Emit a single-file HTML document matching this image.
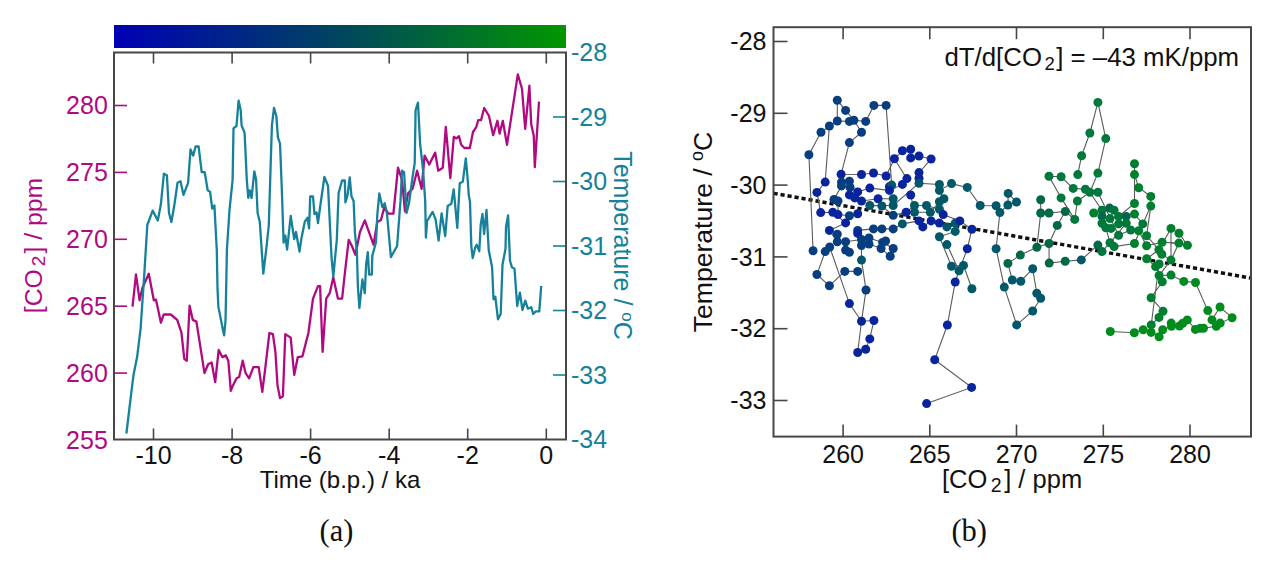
<!DOCTYPE html><html><head><meta charset="utf-8"><style>html,body{margin:0;padding:0;background:#fff;}svg{display:block;}</style></head><body>
<svg width="1277" height="563" viewBox="0 0 1277 563">
<g font-family='"Liberation Sans", sans-serif'>
<defs><linearGradient id="cb" x1="0" x2="1" y1="0" y2="0"><stop offset="0" stop-color="#0000B4"/><stop offset="0.5" stop-color="#00465F"/><stop offset="1" stop-color="#009600"/></linearGradient></defs>
<rect x="114" y="25" width="452" height="23" fill="url(#cb)"/>
<text x="107.8" y="448.5" font-size="25" fill="#B00A80" text-anchor="end">255</text>
<line x1="114" y1="373.1" x2="127" y2="373.1" stroke="#B00A80" stroke-width="1.6"/>
<text x="107.8" y="381.6" font-size="25" fill="#B00A80" text-anchor="end">260</text>
<line x1="114" y1="306.2" x2="127" y2="306.2" stroke="#B00A80" stroke-width="1.6"/>
<text x="107.8" y="314.7" font-size="25" fill="#B00A80" text-anchor="end">265</text>
<line x1="114" y1="239.3" x2="127" y2="239.3" stroke="#B00A80" stroke-width="1.6"/>
<text x="107.8" y="247.8" font-size="25" fill="#B00A80" text-anchor="end">270</text>
<line x1="114" y1="172.4" x2="127" y2="172.4" stroke="#B00A80" stroke-width="1.6"/>
<text x="107.8" y="180.9" font-size="25" fill="#B00A80" text-anchor="end">275</text>
<line x1="114" y1="105.5" x2="127" y2="105.5" stroke="#B00A80" stroke-width="1.6"/>
<text x="107.8" y="114.0" font-size="25" fill="#B00A80" text-anchor="end">280</text>
<text x="571" y="61.0" font-size="25" fill="#16819A">-28</text>
<line x1="553" y1="117.0" x2="566" y2="117.0" stroke="#16819A" stroke-width="1.6"/>
<text x="571" y="125.5" font-size="25" fill="#16819A">-29</text>
<line x1="553" y1="181.5" x2="566" y2="181.5" stroke="#16819A" stroke-width="1.6"/>
<text x="571" y="190.0" font-size="25" fill="#16819A">-30</text>
<line x1="553" y1="246.0" x2="566" y2="246.0" stroke="#16819A" stroke-width="1.6"/>
<text x="571" y="254.5" font-size="25" fill="#16819A">-31</text>
<line x1="553" y1="310.5" x2="566" y2="310.5" stroke="#16819A" stroke-width="1.6"/>
<text x="571" y="319.0" font-size="25" fill="#16819A">-32</text>
<line x1="553" y1="375.0" x2="566" y2="375.0" stroke="#16819A" stroke-width="1.6"/>
<text x="571" y="383.5" font-size="25" fill="#16819A">-33</text>
<text x="571" y="448.0" font-size="25" fill="#16819A">-34</text>
<line x1="153.5" y1="52.5" x2="153.5" y2="63.5" stroke="#474747" stroke-width="1.6"/>
<line x1="153.5" y1="439.5" x2="153.5" y2="428.5" stroke="#474747" stroke-width="1.6"/>
<text x="153.5" y="464" font-size="25" fill="#111" text-anchor="middle">-10</text>
<line x1="232.1" y1="52.5" x2="232.1" y2="63.5" stroke="#474747" stroke-width="1.6"/>
<line x1="232.1" y1="439.5" x2="232.1" y2="428.5" stroke="#474747" stroke-width="1.6"/>
<text x="232.1" y="464" font-size="25" fill="#111" text-anchor="middle">-8</text>
<line x1="310.6" y1="52.5" x2="310.6" y2="63.5" stroke="#474747" stroke-width="1.6"/>
<line x1="310.6" y1="439.5" x2="310.6" y2="428.5" stroke="#474747" stroke-width="1.6"/>
<text x="310.6" y="464" font-size="25" fill="#111" text-anchor="middle">-6</text>
<line x1="389.2" y1="52.5" x2="389.2" y2="63.5" stroke="#474747" stroke-width="1.6"/>
<line x1="389.2" y1="439.5" x2="389.2" y2="428.5" stroke="#474747" stroke-width="1.6"/>
<text x="389.2" y="464" font-size="25" fill="#111" text-anchor="middle">-4</text>
<line x1="467.7" y1="52.5" x2="467.7" y2="63.5" stroke="#474747" stroke-width="1.6"/>
<line x1="467.7" y1="439.5" x2="467.7" y2="428.5" stroke="#474747" stroke-width="1.6"/>
<text x="467.7" y="464" font-size="25" fill="#111" text-anchor="middle">-2</text>
<line x1="546.3" y1="52.5" x2="546.3" y2="63.5" stroke="#474747" stroke-width="1.6"/>
<line x1="546.3" y1="439.5" x2="546.3" y2="428.5" stroke="#474747" stroke-width="1.6"/>
<text x="546.3" y="464" font-size="25" fill="#111" text-anchor="middle">0</text>
<polyline points="132.5,306.7 136.0,274.4 139.6,300.3 142.4,287.9 148.8,273.7 153.8,300.3 155.9,299.6 157.3,305.7 160.9,322.7 163.7,314.5 170.8,314.5 177.2,319.9 181.4,332.3 184.3,358.9 186.8,360.7 189.6,305.7 192.8,319.9 196.4,321.6 204.5,373.1 208.1,364.2 211.6,362.5 215.2,382.0 218.7,350.0 222.3,357.1 225.8,355.4 228.3,360.7 230.8,390.9 232.1,387.3 236.4,378.4 239.2,376.7 242.7,360.7 245.6,373.1 249.1,378.4 253.4,367.1 258.7,367.1 262.3,391.9 265.1,369.6 269.4,333.0 272.9,334.1 275.4,351.8 277.5,385.5 280.0,398.0 282.9,396.2 285.3,334.1 290.7,337.6 294.2,374.9 297.8,357.1 302.4,356.4 308.4,333.0 313.0,298.6 318.0,286.1 320.1,286.1 322.6,351.8 326.2,298.6 329.7,293.2 333.3,277.3 337.9,298.6 342.1,298.6 345.0,272.0 348.7,239.8 351.9,246.0 355.4,254.7 359.9,232.3 364.8,220.4 373.5,244.7 377.3,221.9 381.0,219.9 384.2,207.5 388.4,213.7 393.4,213.7 398.0,167.7 402.0,179.8 405.0,211.5 408.0,193.4 412.6,188.8 417.1,170.7 421.6,188.8 424.6,155.6 429.2,164.6 435.2,152.6 438.2,170.7 442.8,167.7 445.8,126.9 450.3,178.2 453.8,136.8 456.4,138.4 459.0,136.2 461.2,144.8 464.4,148.0 469.8,148.0 473.0,132.0 476.2,127.2 478.2,120.2 481.0,120.2 484.2,108.0 489.0,116.0 493.2,135.2 497.4,120.8 499.6,133.6 502.8,120.8 507.0,144.8 512.4,109.6 517.8,74.4 522.0,88.8 525.2,128.8 529.4,85.6 531.2,124.0 533.8,136.0 534.8,167.2 539.0,101.6" fill="none" stroke="#B00A80" stroke-width="2.3" stroke-linejoin="round"/>
<polyline points="126.4,433.5 130.0,403.3 133.5,374.9 137.1,357.1 140.6,328.7 144.2,275.5 147.3,225.0 152.7,210.6 157.8,220.6 160.9,204.0 163.9,173.7 166.9,175.2 169.0,213.0 171.4,222.0 174.5,204.0 177.5,182.8 180.5,181.3 183.5,194.9 188.1,182.8 190.5,149.5 193.2,155.6 195.6,146.5 198.6,146.5 201.7,172.2 204.7,172.2 207.7,190.3 210.1,191.9 212.2,208.5 214.4,205.4 216.8,250.0 217.5,288.4 218.4,306.9 221.2,321.1 222.6,328.2 224.1,335.3 225.5,321.1 226.0,297.0 226.9,250.0 229.5,210.0 232.6,179.8 233.5,128.4 236.5,126.0 238.6,100.6 240.7,110.2 241.6,125.3 244.6,132.9 246.8,179.8 248.3,197.9 249.8,190.3 251.6,197.9 254.3,171.3 256.1,179.8 257.6,213.0 259.8,222.1 263.3,273.7 266.5,247.1 268.8,225.1 271.9,125.3 274.0,107.8 276.4,116.3 277.9,137.4 280.0,143.5 281.8,188.8 283.6,242.6 285.3,235.5 287.1,249.7 290.7,216.0 294.2,239.1 296.0,232.0 299.5,251.5 301.3,239.1 304.9,221.3 307.4,217.8 309.1,228.4 310.2,196.5 313.0,196.5 314.5,214.2 316.6,212.5 318.0,223.1 320.1,207.1 324.4,177.0 328.0,185.8 331.5,256.8 333.3,276.4 336.8,240.0 338.6,193.0 342.1,180.5 344.8,180.5 345.4,202.4 347.6,194.9 349.7,177.3 351.5,196.4 353.6,200.9 354.9,232.3 356.9,252.2 357.9,287.0 359.4,308.0 362.4,279.5 364.8,293.2 366.1,264.6 367.8,252.2 369.1,274.5 371.8,274.5 372.3,255.9 376.0,242.2 377.3,214.9 379.3,193.4 382.3,207.0 384.7,203.3 386.9,213.0 390.9,257.1 397.1,246.0 399.6,212.4 400.5,200.9 402.0,170.7 404.1,172.2 406.5,213.0 408.9,203.9 412.6,176.7 414.7,163.1 415.6,110.2 418.0,102.7 420.1,143.5 423.1,170.7 425.2,200.9 425.9,237.6 427.1,221.0 432.6,211.9 435.6,219.4 438.6,240.6 441.6,213.4 445.2,236.0 447.7,205.9 451.3,203.7 453.7,189.3 457.3,227.9 459.7,183.2 462.8,181.7 465.8,158.5 467.6,178.4 468.8,195.3 470.0,202.0 471.3,246.0 472.7,258.0 475.3,247.3 476.7,244.7 479.3,251.3 480.7,224.7 482.5,214.0 484.1,234.0 486.5,210.0 488.7,250.0 492.1,267.3 493.5,299.3 495.3,296.7 498.0,319.3 500.7,314.0 502.5,264.7 505.5,248.7 506.0,227.3 508.1,215.3 510.0,260.7 511.9,267.3 514.5,268.7 517.2,306.0 519.9,292.7 522.5,310.0 525.2,300.7 527.9,308.7 531.3,307.3 533.2,314.0 535.9,311.3 539.3,311.3 541.2,286.0" fill="none" stroke="#16819A" stroke-width="2.3" stroke-linejoin="round"/>
<rect x="114" y="52.5" width="452" height="387.0" fill="none" stroke="#474747" stroke-width="2"/>
<text x="340" y="488" font-size="24" fill="#111" text-anchor="middle">Time (b.p.) / ka</text>
<text transform="translate(42,245.5) rotate(-90)" font-size="24.8" fill="#B00A80" text-anchor="middle">[CO<tspan font-size="19" dx="3" dy="3">2</tspan><tspan dx="2" dy="-3">] / ppm</tspan></text>
<text transform="translate(614,245.5) rotate(90)" font-size="25" fill="#16819A" text-anchor="middle">Temperature / <tspan font-size="17" dy="-8">o</tspan><tspan dy="8">C</tspan></text>
<text x="336.5" y="541" font-size="30.5" font-family='"Liberation Serif", serif' fill="#111" text-anchor="middle">(a)</text>
<line x1="773.5" y1="41.5" x2="787.5" y2="41.5" stroke="#474747" stroke-width="1.6"/>
<text x="766.5" y="50.2" font-size="25" fill="#111" text-anchor="end">-28</text>
<line x1="773.5" y1="113.3" x2="787.5" y2="113.3" stroke="#474747" stroke-width="1.6"/>
<text x="766.5" y="122.0" font-size="25" fill="#111" text-anchor="end">-29</text>
<line x1="773.5" y1="185.1" x2="787.5" y2="185.1" stroke="#474747" stroke-width="1.6"/>
<text x="766.5" y="193.8" font-size="25" fill="#111" text-anchor="end">-30</text>
<line x1="773.5" y1="256.9" x2="787.5" y2="256.9" stroke="#474747" stroke-width="1.6"/>
<text x="766.5" y="265.6" font-size="25" fill="#111" text-anchor="end">-31</text>
<line x1="773.5" y1="328.7" x2="787.5" y2="328.7" stroke="#474747" stroke-width="1.6"/>
<text x="766.5" y="337.4" font-size="25" fill="#111" text-anchor="end">-32</text>
<line x1="773.5" y1="400.5" x2="787.5" y2="400.5" stroke="#474747" stroke-width="1.6"/>
<text x="766.5" y="409.2" font-size="25" fill="#111" text-anchor="end">-33</text>
<line x1="843.1" y1="27.2" x2="843.1" y2="39.2" stroke="#474747" stroke-width="1.6"/>
<line x1="843.1" y1="436.6" x2="843.1" y2="424.6" stroke="#474747" stroke-width="1.6"/>
<text x="843.1" y="462.5" font-size="25" fill="#111" text-anchor="middle">260</text>
<line x1="929.8" y1="27.2" x2="929.8" y2="39.2" stroke="#474747" stroke-width="1.6"/>
<line x1="929.8" y1="436.6" x2="929.8" y2="424.6" stroke="#474747" stroke-width="1.6"/>
<text x="929.8" y="462.5" font-size="25" fill="#111" text-anchor="middle">265</text>
<line x1="1016.5" y1="27.2" x2="1016.5" y2="39.2" stroke="#474747" stroke-width="1.6"/>
<line x1="1016.5" y1="436.6" x2="1016.5" y2="424.6" stroke="#474747" stroke-width="1.6"/>
<text x="1016.5" y="462.5" font-size="25" fill="#111" text-anchor="middle">270</text>
<line x1="1103.3" y1="27.2" x2="1103.3" y2="39.2" stroke="#474747" stroke-width="1.6"/>
<line x1="1103.3" y1="436.6" x2="1103.3" y2="424.6" stroke="#474747" stroke-width="1.6"/>
<text x="1103.3" y="462.5" font-size="25" fill="#111" text-anchor="middle">275</text>
<line x1="1190.0" y1="27.2" x2="1190.0" y2="39.2" stroke="#474747" stroke-width="1.6"/>
<line x1="1190.0" y1="436.6" x2="1190.0" y2="424.6" stroke="#474747" stroke-width="1.6"/>
<text x="1190.0" y="462.5" font-size="25" fill="#111" text-anchor="middle">280</text>
<line x1="773.5" y1="193.3" x2="1251" y2="278.1" stroke="#111" stroke-width="3.4" stroke-dasharray="4.2 2.9"/>
<polyline points="813.1,250.8 808.9,154.7 821.0,132.3 829.4,126.0 837.3,121.0 849.4,121.4 853.9,120.2 865.7,121.4 873.9,105.4 886.1,105.4 891.7,185.1" fill="none" stroke="#5a5a5a" stroke-width="1.1"/>
<polyline points="837.3,121.0 837.3,100.3 845.6,110.4 853.9,120.2 861.5,132.3 849.4,142.6 841.1,174.2 861.5,174.5 873.5,173.0 886.1,176.0 894.4,158.7 902.4,150.8 910.7,149.3 910.7,157.9 919.0,156.0 931.1,159.0 919.0,172.6 919.0,178.3 919.0,183.2 939.4,184.4 939.4,190.4 951.5,183.6 967.3,187.4 980.2,205.5 996.1,205.8 999.9,212.6 996.1,248.8 1004.3,287.1 1016.7,324.9 1032.7,311.0 1040.7,298.3 1036.8,293.3 1032.7,268.8 1020.8,281.2 1012.3,280.0 1007.9,263.4 1020.3,255.1 1036.9,247.3 1049.0,243.5 1049.2,263.1 1065.2,261.3 1081.3,259.9 1097.9,245.1" fill="none" stroke="#5a5a5a" stroke-width="1.1"/>
<polyline points="829.4,126.0 825.2,182.1 816.9,192.4 820.7,212.6 832.8,212.3 845.6,222.9 829.4,230.4 837.3,241.8 845.6,241.8 861.5,239.5" fill="none" stroke="#5a5a5a" stroke-width="1.1"/>
<polyline points="999.9,212.6 1007.9,205.0 1008.2,193.4 1016.5,202.0 1007.9,205.0" fill="none" stroke="#5a5a5a" stroke-width="1.1"/>
<polyline points="1040.7,199.7 1040.7,213.0 1036.9,247.3" fill="none" stroke="#5a5a5a" stroke-width="1.1"/>
<polyline points="1040.7,213.0 1049.0,213.0 1065.3,211.5 1057.3,225.4 1049.0,243.5" fill="none" stroke="#5a5a5a" stroke-width="1.1"/>
<polyline points="1073.2,188.4 1061.1,176.8 1049.0,176.3 1061.1,197.9 1074.7,219.4" fill="none" stroke="#5a5a5a" stroke-width="1.1"/>
<polyline points="1077.8,174.6 1081.6,155.7 1089.9,133.0 1097.9,102.4 1105.8,138.6 1097.9,173.1 1089.9,192.2 1102.0,210.3" fill="none" stroke="#5a5a5a" stroke-width="1.1"/>
<polyline points="1073.2,188.4 1085.4,189.2 1089.9,192.2 1077.4,201.0 1074.7,219.4 1065.3,211.5" fill="none" stroke="#5a5a5a" stroke-width="1.1"/>
<polyline points="1134.5,163.7 1134.5,174.6 1138.7,187.7 1150.8,196.4 1150.8,206.1 1146.6,235.7 1158.9,249.8 1171.0,228.4 1179.0,233.2 1187.4,245.2" fill="none" stroke="#5a5a5a" stroke-width="1.1"/>
<polyline points="1134.5,174.6 1134.5,203.5 1118.6,216.4 1110.0,218.6 1102.0,223.2 1105.8,227.7 1110.0,242.8 1114.1,246.6 1134.5,243.5 1142.8,223.9 1134.5,214.1" fill="none" stroke="#5a5a5a" stroke-width="1.1"/>
<polyline points="1097.9,245.1 1101.9,251.5 1110.0,242.8 1126.2,223.2 1130.7,230.0 1118.6,235.2 1097.9,192.2" fill="none" stroke="#5a5a5a" stroke-width="1.1"/>
<polyline points="1171.0,228.4 1171.0,260.1 1161.8,254.2 1158.9,249.8 1162.1,242.2 1178.9,243.1 1171.0,260.1 1159.1,275.5 1171.0,275.1 1183.8,281.4 1195.5,282.5 1207.8,310.6 1212.0,319.9 1220.0,307.0 1232.1,317.7 1220.2,323.1 1216.3,326.2 1203.5,328.2 1195.4,329.4 1187.3,319.9 1182.7,323.2 1171.5,326.3 1162.7,329.7 1159.1,336.8 1151.1,332.4 1143.2,329.7 1134.3,332.7 1110.3,331.5" fill="none" stroke="#5a5a5a" stroke-width="1.1"/>
<polyline points="1155.6,266.6 1162.3,281.7 1151.1,297.7 1163.0,311.2 1159.0,317.4 1151.2,324.9 1159.1,264.0" fill="none" stroke="#5a5a5a" stroke-width="1.1"/>
<polyline points="825.2,251.6 816.9,274.5 829.4,285.8 844.8,271.4 857.7,271.4" fill="none" stroke="#5a5a5a" stroke-width="1.1"/>
<polyline points="829.7,247.0 849.4,303.6 861.5,321.3 873.9,320.5 869.8,338.9 865.7,349.2 857.7,352.5 861.5,321.3" fill="none" stroke="#5a5a5a" stroke-width="1.1"/>
<polyline points="861.5,245.5 861.5,260.1 866.0,290.0 861.5,321.3" fill="none" stroke="#5a5a5a" stroke-width="1.1"/>
<polyline points="971.9,229.2 967.3,248.8 959.0,270.7 955.2,282.0 947.4,325.0 934.7,359.7 971.6,387.4 926.6,403.6" fill="none" stroke="#5a5a5a" stroke-width="1.1"/>
<polyline points="939.4,236.7 951.5,266.2 963.5,265.4 971.9,288.8" fill="none" stroke="#5a5a5a" stroke-width="1.1"/>
<polyline points="946.9,244.6 959.0,270.7" fill="none" stroke="#5a5a5a" stroke-width="1.1"/>
<polyline points="894.4,158.7 906.9,178.6 902.4,184.4 889.5,190.4 869.8,188.1 857.7,191.9 849.4,194.9 854.7,197.9 861.5,201.0 878.1,198.7 893.2,198.7" fill="none" stroke="#5a5a5a" stroke-width="1.1"/>
<polyline points="919.0,183.2 893.2,205.5 869.8,205.5 881.9,206.0 893.2,215.3 906.1,212.3 914.5,205.5 926.5,205.5 939.4,209.3 943.2,214.6 959.8,220.9 971.9,229.2" fill="none" stroke="#5a5a5a" stroke-width="1.1"/>
<polyline points="841.5,182.1 849.4,181.3 850.1,187.4 841.5,185.9 834.0,199.5 838.0,201.0 838.0,214.6 849.4,215.7 857.7,213.8 849.4,215.7" fill="none" stroke="#5a5a5a" stroke-width="1.1"/>
<polyline points="857.7,230.4 873.5,228.9 881.9,228.9 893.2,228.9 902.4,223.9 919.0,220.9 922.8,226.9 931.1,220.9 939.4,223.1 946.9,226.9 955.2,223.1 955.2,231.4 939.4,236.7" fill="none" stroke="#5a5a5a" stroke-width="1.1"/>
<polyline points="869.0,238.0 882.6,242.5 893.2,248.5 890.2,256.3 881.1,248.5 869.0,244.0" fill="none" stroke="#5a5a5a" stroke-width="1.1"/>
<polyline points="910.7,195.0 914.5,212.3 930.3,212.3 939.4,201.8 943.9,198.7 939.4,190.4" fill="none" stroke="#5a5a5a" stroke-width="1.1"/>
<polyline points="1150.8,206.1 1142.8,223.9 1138.7,230.7 1146.6,245.8 1162.1,242.2 1158.9,249.8 1146.7,258.7 1155.6,266.6" fill="none" stroke="#5a5a5a" stroke-width="1.1"/>
<circle cx="837.3" cy="100.3" r="4.5" fill="#063E80"/>
<circle cx="845.6" cy="110.4" r="4.5" fill="#063E80"/>
<circle cx="837.3" cy="121.0" r="4.5" fill="#063E80"/>
<circle cx="849.4" cy="121.4" r="4.5" fill="#063E80"/>
<circle cx="853.9" cy="120.2" r="4.5" fill="#063E80"/>
<circle cx="865.7" cy="121.4" r="4.5" fill="#063E80"/>
<circle cx="873.9" cy="105.4" r="4.5" fill="#063E80"/>
<circle cx="886.1" cy="105.4" r="4.5" fill="#063E80"/>
<circle cx="829.4" cy="126.0" r="4.5" fill="#063E80"/>
<circle cx="821.0" cy="132.3" r="4.5" fill="#063E80"/>
<circle cx="808.9" cy="154.7" r="4.5" fill="#063E80"/>
<circle cx="861.5" cy="132.3" r="4.5" fill="#063E80"/>
<circle cx="849.4" cy="142.6" r="4.5" fill="#063E80"/>
<circle cx="841.1" cy="174.2" r="4.5" fill="#0A249E"/>
<circle cx="861.5" cy="174.5" r="4.5" fill="#0A249E"/>
<circle cx="873.5" cy="173.0" r="4.5" fill="#0A249E"/>
<circle cx="886.1" cy="176.0" r="4.5" fill="#0A249E"/>
<circle cx="825.2" cy="182.1" r="4.5" fill="#0A249E"/>
<circle cx="841.5" cy="182.1" r="4.5" fill="#063E80"/>
<circle cx="841.5" cy="185.9" r="4.5" fill="#063E80"/>
<circle cx="849.4" cy="181.3" r="4.5" fill="#063E80"/>
<circle cx="850.1" cy="187.4" r="4.5" fill="#063E80"/>
<circle cx="816.9" cy="192.4" r="4.5" fill="#0A249E"/>
<circle cx="857.7" cy="191.9" r="4.5" fill="#0A249E"/>
<circle cx="849.4" cy="194.9" r="4.5" fill="#0A249E"/>
<circle cx="854.7" cy="197.9" r="4.5" fill="#0A249E"/>
<circle cx="869.8" cy="188.1" r="4.5" fill="#0A249E"/>
<circle cx="889.4" cy="186.6" r="4.5" fill="#0A249E"/>
<circle cx="891.7" cy="185.1" r="4.5" fill="#005868"/>
<circle cx="834.0" cy="199.5" r="4.5" fill="#063E80"/>
<circle cx="838.0" cy="201.0" r="4.5" fill="#063E80"/>
<circle cx="861.5" cy="201.0" r="4.5" fill="#0A249E"/>
<circle cx="878.1" cy="198.7" r="4.5" fill="#0A249E"/>
<circle cx="869.8" cy="205.5" r="4.5" fill="#005868"/>
<circle cx="881.9" cy="206.0" r="4.5" fill="#005868"/>
<circle cx="893.2" cy="198.7" r="4.5" fill="#005868"/>
<circle cx="893.2" cy="205.5" r="4.5" fill="#005868"/>
<circle cx="820.7" cy="212.6" r="4.5" fill="#0A249E"/>
<circle cx="832.8" cy="212.3" r="4.5" fill="#0A249E"/>
<circle cx="838.0" cy="214.6" r="4.5" fill="#0A249E"/>
<circle cx="849.4" cy="215.7" r="4.5" fill="#063E80"/>
<circle cx="857.7" cy="213.8" r="4.5" fill="#0A249E"/>
<circle cx="845.6" cy="222.9" r="4.5" fill="#0A249E"/>
<circle cx="893.2" cy="215.3" r="4.5" fill="#063E80"/>
<circle cx="829.4" cy="230.4" r="4.5" fill="#0A249E"/>
<circle cx="837.3" cy="234.2" r="4.5" fill="#063E80"/>
<circle cx="857.7" cy="230.4" r="4.5" fill="#063E80"/>
<circle cx="857.7" cy="233.4" r="4.5" fill="#0A249E"/>
<circle cx="873.5" cy="228.9" r="4.5" fill="#063E80"/>
<circle cx="881.9" cy="228.9" r="4.5" fill="#063E80"/>
<circle cx="893.2" cy="228.9" r="4.5" fill="#063E80"/>
<circle cx="837.3" cy="241.8" r="4.5" fill="#063E80"/>
<circle cx="845.6" cy="241.8" r="4.5" fill="#063E80"/>
<circle cx="861.5" cy="239.5" r="4.5" fill="#063E80"/>
<circle cx="869.0" cy="238.0" r="4.5" fill="#063E80"/>
<circle cx="861.5" cy="245.5" r="4.5" fill="#063E80"/>
<circle cx="869.0" cy="244.0" r="4.5" fill="#063E80"/>
<circle cx="882.6" cy="242.5" r="4.5" fill="#063E80"/>
<circle cx="885.6" cy="241.0" r="4.5" fill="#063E80"/>
<circle cx="881.1" cy="248.5" r="4.5" fill="#063E80"/>
<circle cx="893.2" cy="248.5" r="4.5" fill="#063E80"/>
<circle cx="813.1" cy="250.8" r="4.5" fill="#063E80"/>
<circle cx="825.2" cy="251.6" r="4.5" fill="#063E80"/>
<circle cx="829.7" cy="247.0" r="4.5" fill="#063E80"/>
<circle cx="845.6" cy="250.1" r="4.5" fill="#063E80"/>
<circle cx="849.4" cy="252.3" r="4.5" fill="#063E80"/>
<circle cx="890.2" cy="256.3" r="4.5" fill="#063E80"/>
<circle cx="861.5" cy="260.1" r="4.5" fill="#005868"/>
<circle cx="816.9" cy="274.5" r="4.5" fill="#063E80"/>
<circle cx="829.4" cy="285.8" r="4.5" fill="#063E80"/>
<circle cx="844.8" cy="271.4" r="4.5" fill="#063E80"/>
<circle cx="857.7" cy="271.4" r="4.5" fill="#063E80"/>
<circle cx="866.0" cy="290.0" r="4.5" fill="#063E80"/>
<circle cx="849.4" cy="303.6" r="4.5" fill="#0A249E"/>
<circle cx="861.5" cy="321.3" r="4.5" fill="#0A249E"/>
<circle cx="873.9" cy="320.5" r="4.5" fill="#0A249E"/>
<circle cx="869.8" cy="338.9" r="4.5" fill="#0A249E"/>
<circle cx="865.7" cy="349.2" r="4.5" fill="#0A249E"/>
<circle cx="857.7" cy="352.5" r="4.5" fill="#0A249E"/>
<circle cx="894.4" cy="158.7" r="4.5" fill="#0A249E"/>
<circle cx="902.4" cy="150.8" r="4.5" fill="#0A249E"/>
<circle cx="910.7" cy="149.3" r="4.5" fill="#0A249E"/>
<circle cx="910.7" cy="157.9" r="4.5" fill="#0A249E"/>
<circle cx="919.0" cy="156.0" r="4.5" fill="#0A249E"/>
<circle cx="931.1" cy="159.0" r="4.5" fill="#0A249E"/>
<circle cx="919.0" cy="172.6" r="4.5" fill="#0A249E"/>
<circle cx="919.0" cy="178.3" r="4.5" fill="#0A249E"/>
<circle cx="919.0" cy="183.2" r="4.5" fill="#005868"/>
<circle cx="906.9" cy="178.6" r="4.5" fill="#0A249E"/>
<circle cx="902.4" cy="184.4" r="4.5" fill="#0A249E"/>
<circle cx="889.5" cy="190.4" r="4.5" fill="#0A249E"/>
<circle cx="910.7" cy="195.0" r="4.5" fill="#0A249E"/>
<circle cx="914.5" cy="205.5" r="4.5" fill="#005868"/>
<circle cx="926.5" cy="205.5" r="4.5" fill="#005868"/>
<circle cx="914.5" cy="212.3" r="4.5" fill="#005868"/>
<circle cx="906.1" cy="212.3" r="4.5" fill="#0A249E"/>
<circle cx="939.4" cy="184.4" r="4.5" fill="#005868"/>
<circle cx="939.4" cy="190.4" r="4.5" fill="#005868"/>
<circle cx="951.5" cy="183.6" r="4.5" fill="#005868"/>
<circle cx="967.3" cy="187.4" r="4.5" fill="#005868"/>
<circle cx="980.2" cy="205.5" r="4.5" fill="#005868"/>
<circle cx="939.4" cy="201.8" r="4.5" fill="#005868"/>
<circle cx="943.9" cy="198.7" r="4.5" fill="#005868"/>
<circle cx="939.4" cy="209.3" r="4.5" fill="#005868"/>
<circle cx="930.3" cy="212.3" r="4.5" fill="#005868"/>
<circle cx="943.2" cy="214.6" r="4.5" fill="#0A249E"/>
<circle cx="902.4" cy="223.9" r="4.5" fill="#005868"/>
<circle cx="919.0" cy="220.9" r="4.5" fill="#0A249E"/>
<circle cx="922.8" cy="226.9" r="4.5" fill="#0A249E"/>
<circle cx="931.1" cy="220.9" r="4.5" fill="#0A249E"/>
<circle cx="939.4" cy="223.1" r="4.5" fill="#0A249E"/>
<circle cx="946.9" cy="226.9" r="4.5" fill="#005868"/>
<circle cx="955.2" cy="223.1" r="4.5" fill="#005868"/>
<circle cx="959.8" cy="220.9" r="4.5" fill="#0A249E"/>
<circle cx="955.2" cy="231.4" r="4.5" fill="#005868"/>
<circle cx="971.9" cy="229.2" r="4.5" fill="#0A249E"/>
<circle cx="939.4" cy="236.7" r="4.5" fill="#005868"/>
<circle cx="946.9" cy="244.6" r="4.5" fill="#005868"/>
<circle cx="967.3" cy="248.8" r="4.5" fill="#0A249E"/>
<circle cx="951.5" cy="266.2" r="4.5" fill="#005868"/>
<circle cx="963.5" cy="265.4" r="4.5" fill="#005868"/>
<circle cx="959.0" cy="270.7" r="4.5" fill="#005868"/>
<circle cx="955.2" cy="282.0" r="4.5" fill="#0A249E"/>
<circle cx="971.9" cy="288.8" r="4.5" fill="#005868"/>
<circle cx="947.4" cy="325.0" r="4.5" fill="#0A249E"/>
<circle cx="934.7" cy="359.7" r="4.5" fill="#0A249E"/>
<circle cx="971.6" cy="387.4" r="4.5" fill="#0A249E"/>
<circle cx="926.6" cy="403.6" r="4.5" fill="#0A249E"/>
<circle cx="996.1" cy="205.8" r="4.5" fill="#005868"/>
<circle cx="999.9" cy="212.6" r="4.5" fill="#005868"/>
<circle cx="1008.2" cy="193.4" r="4.5" fill="#005868"/>
<circle cx="1007.9" cy="205.0" r="4.5" fill="#005868"/>
<circle cx="1016.5" cy="202.0" r="4.5" fill="#005868"/>
<circle cx="1040.7" cy="199.7" r="4.5" fill="#006848"/>
<circle cx="1040.7" cy="213.0" r="4.5" fill="#006848"/>
<circle cx="1049.0" cy="213.0" r="4.5" fill="#006848"/>
<circle cx="1065.3" cy="211.5" r="4.5" fill="#006848"/>
<circle cx="1057.3" cy="225.4" r="4.5" fill="#006848"/>
<circle cx="1049.0" cy="243.5" r="4.5" fill="#006848"/>
<circle cx="1036.9" cy="247.3" r="4.5" fill="#006848"/>
<circle cx="996.1" cy="248.8" r="4.5" fill="#005868"/>
<circle cx="1049.0" cy="176.3" r="4.5" fill="#00783C"/>
<circle cx="1061.1" cy="176.8" r="4.5" fill="#00783C"/>
<circle cx="1061.1" cy="197.9" r="4.5" fill="#00783C"/>
<circle cx="1073.2" cy="188.4" r="4.5" fill="#00783C"/>
<circle cx="1074.7" cy="219.4" r="4.5" fill="#00783C"/>
<circle cx="1004.3" cy="287.1" r="4.5" fill="#005868"/>
<circle cx="1016.7" cy="324.9" r="4.5" fill="#005868"/>
<circle cx="1032.7" cy="311.0" r="4.5" fill="#005868"/>
<circle cx="1036.8" cy="293.3" r="4.5" fill="#005868"/>
<circle cx="1040.7" cy="298.3" r="4.5" fill="#005868"/>
<circle cx="1032.7" cy="268.8" r="4.5" fill="#005868"/>
<circle cx="1020.8" cy="281.2" r="4.5" fill="#005868"/>
<circle cx="1012.3" cy="280.0" r="4.5" fill="#005868"/>
<circle cx="1007.9" cy="263.4" r="4.5" fill="#006848"/>
<circle cx="1020.3" cy="255.1" r="4.5" fill="#006848"/>
<circle cx="1049.2" cy="263.1" r="4.5" fill="#006848"/>
<circle cx="1065.2" cy="261.3" r="4.5" fill="#006848"/>
<circle cx="1097.9" cy="102.4" r="4.5" fill="#00783C"/>
<circle cx="1089.9" cy="133.0" r="4.5" fill="#00783C"/>
<circle cx="1105.8" cy="138.6" r="4.5" fill="#00783C"/>
<circle cx="1081.6" cy="155.7" r="4.5" fill="#00783C"/>
<circle cx="1077.8" cy="174.6" r="4.5" fill="#00783C"/>
<circle cx="1097.9" cy="173.1" r="4.5" fill="#00783C"/>
<circle cx="1134.5" cy="163.7" r="4.5" fill="#00802E"/>
<circle cx="1134.5" cy="174.6" r="4.5" fill="#00802E"/>
<circle cx="1085.4" cy="189.2" r="4.5" fill="#00783C"/>
<circle cx="1089.9" cy="192.2" r="4.5" fill="#00783C"/>
<circle cx="1097.9" cy="192.2" r="4.5" fill="#00783C"/>
<circle cx="1077.4" cy="201.0" r="4.5" fill="#00783C"/>
<circle cx="1138.7" cy="187.7" r="4.5" fill="#00802E"/>
<circle cx="1150.8" cy="196.4" r="4.5" fill="#00802E"/>
<circle cx="1150.8" cy="206.1" r="4.5" fill="#00802E"/>
<circle cx="1134.5" cy="203.5" r="4.5" fill="#00802E"/>
<circle cx="1134.5" cy="214.1" r="4.5" fill="#00802E"/>
<circle cx="1093.7" cy="213.0" r="4.5" fill="#00802E"/>
<circle cx="1102.0" cy="210.3" r="4.5" fill="#00783C"/>
<circle cx="1109.6" cy="208.1" r="4.5" fill="#006848"/>
<circle cx="1114.1" cy="210.3" r="4.5" fill="#00783C"/>
<circle cx="1102.0" cy="216.4" r="4.5" fill="#006848"/>
<circle cx="1110.0" cy="218.6" r="4.5" fill="#00783C"/>
<circle cx="1118.6" cy="216.4" r="4.5" fill="#00783C"/>
<circle cx="1126.2" cy="216.4" r="4.5" fill="#006848"/>
<circle cx="1102.0" cy="223.2" r="4.5" fill="#00783C"/>
<circle cx="1105.8" cy="227.7" r="4.5" fill="#00783C"/>
<circle cx="1111.1" cy="228.4" r="4.5" fill="#00783C"/>
<circle cx="1118.6" cy="223.9" r="4.5" fill="#00783C"/>
<circle cx="1126.2" cy="223.2" r="4.5" fill="#00783C"/>
<circle cx="1130.7" cy="230.0" r="4.5" fill="#00783C"/>
<circle cx="1142.8" cy="223.9" r="4.5" fill="#00783C"/>
<circle cx="1138.7" cy="230.7" r="4.5" fill="#00802E"/>
<circle cx="1146.6" cy="235.7" r="4.5" fill="#00802E"/>
<circle cx="1118.6" cy="235.2" r="4.5" fill="#00783C"/>
<circle cx="1134.5" cy="243.5" r="4.5" fill="#00802E"/>
<circle cx="1110.0" cy="242.8" r="4.5" fill="#00783C"/>
<circle cx="1114.1" cy="246.6" r="4.5" fill="#00783C"/>
<circle cx="1097.9" cy="245.1" r="4.5" fill="#006848"/>
<circle cx="1146.6" cy="245.8" r="4.5" fill="#00802E"/>
<circle cx="1158.9" cy="249.8" r="4.5" fill="#00802E"/>
<circle cx="1162.1" cy="242.2" r="4.5" fill="#00802E"/>
<circle cx="1081.3" cy="259.9" r="4.5" fill="#005868"/>
<circle cx="1101.9" cy="251.5" r="4.5" fill="#00783C"/>
<circle cx="1146.7" cy="258.7" r="4.5" fill="#00802E"/>
<circle cx="1161.8" cy="254.2" r="4.5" fill="#00802E"/>
<circle cx="1155.6" cy="266.6" r="4.5" fill="#00802E"/>
<circle cx="1159.1" cy="264.0" r="4.5" fill="#00802E"/>
<circle cx="1159.1" cy="275.5" r="4.5" fill="#00802E"/>
<circle cx="1162.3" cy="281.7" r="4.5" fill="#00802E"/>
<circle cx="1151.1" cy="297.7" r="4.5" fill="#00802E"/>
<circle cx="1163.0" cy="311.2" r="4.5" fill="#00802E"/>
<circle cx="1159.0" cy="317.4" r="4.5" fill="#00802E"/>
<circle cx="1151.2" cy="324.9" r="4.5" fill="#00802E"/>
<circle cx="1110.3" cy="331.5" r="4.5" fill="#008C1C"/>
<circle cx="1134.3" cy="332.7" r="4.5" fill="#008C1C"/>
<circle cx="1143.2" cy="329.7" r="4.5" fill="#008C1C"/>
<circle cx="1151.1" cy="332.4" r="4.5" fill="#008C1C"/>
<circle cx="1162.7" cy="329.7" r="4.5" fill="#008C1C"/>
<circle cx="1159.1" cy="336.8" r="4.5" fill="#008C1C"/>
<circle cx="1171.0" cy="228.4" r="4.5" fill="#00802E"/>
<circle cx="1179.0" cy="233.2" r="4.5" fill="#00802E"/>
<circle cx="1178.9" cy="243.1" r="4.5" fill="#00802E"/>
<circle cx="1187.4" cy="245.2" r="4.5" fill="#00802E"/>
<circle cx="1171.0" cy="260.1" r="4.5" fill="#00802E"/>
<circle cx="1171.0" cy="275.1" r="4.5" fill="#00802E"/>
<circle cx="1183.8" cy="281.4" r="4.5" fill="#008C1C"/>
<circle cx="1195.5" cy="282.5" r="4.5" fill="#008C1C"/>
<circle cx="1207.8" cy="310.6" r="4.5" fill="#008C1C"/>
<circle cx="1220.0" cy="307.0" r="4.5" fill="#008C1C"/>
<circle cx="1232.1" cy="317.7" r="4.5" fill="#008C1C"/>
<circle cx="1212.0" cy="319.9" r="4.5" fill="#008C1C"/>
<circle cx="1216.3" cy="326.2" r="4.5" fill="#008C1C"/>
<circle cx="1220.2" cy="323.1" r="4.5" fill="#008C1C"/>
<circle cx="1203.5" cy="328.2" r="4.5" fill="#008C1C"/>
<circle cx="1195.4" cy="329.4" r="4.5" fill="#008C1C"/>
<circle cx="1187.3" cy="319.9" r="4.5" fill="#008C1C"/>
<circle cx="1179.5" cy="326.0" r="4.5" fill="#008C1C"/>
<circle cx="1171.2" cy="323.1" r="4.5" fill="#008C1C"/>
<circle cx="1171.5" cy="326.3" r="4.5" fill="#008C1C"/>
<circle cx="1182.7" cy="323.2" r="4.5" fill="#008C1C"/>
<circle cx="1200.3" cy="328.2" r="4.5" fill="#008C1C"/>
<rect x="773.5" y="27.2" width="477.5" height="409.40000000000003" fill="none" stroke="#474747" stroke-width="2"/>
<text x="944.5" y="65.5" font-size="25.8" fill="#111">dT/d[CO<tspan font-size="18.5" dx="2.5" dy="4">2</tspan><tspan dx="1.5" dy="-4">] = –43 mK/ppm</tspan></text>
<text x="942" y="487.5" font-size="25.5" fill="#111">[CO<tspan font-size="19.5" dx="3.5" dy="4">2</tspan><tspan dx="2.5" dy="-4">] / ppm</tspan></text>
<text transform="translate(711.5,232) rotate(-90)" font-size="26.6" fill="#111" text-anchor="middle">Temperature / <tspan font-size="18" dy="-8.5">o</tspan><tspan dy="8.5">C</tspan></text>
<text x="969.2" y="541" font-size="30.5" font-family='"Liberation Serif", serif' fill="#111" text-anchor="middle">(b)</text>
</g></svg></body></html>
